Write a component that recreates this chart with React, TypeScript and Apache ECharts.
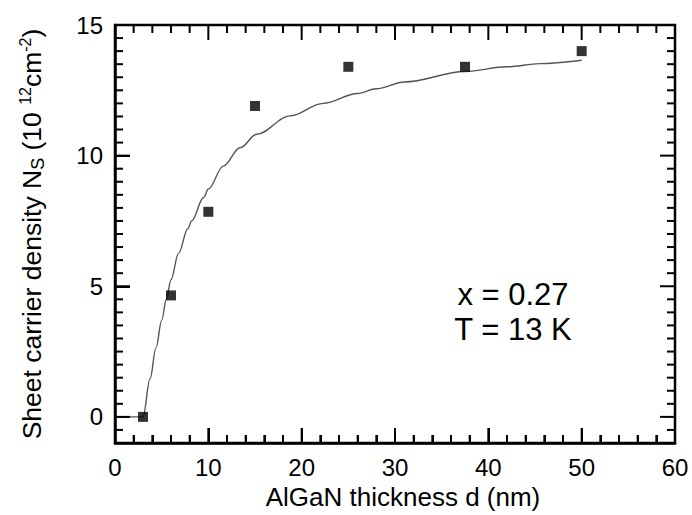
import React, { useEffect, useRef } from "react";
import * as echarts from "echarts";

const thicknessNm = [3, 6, 10, 15, 25, 37.5, 50];
const sheetDensity = [0, 4.65, 7.85, 11.9, 13.4, 13.4, 14.0];

const fitD = [0, 3, 3.75, 4.4, 5, 5.5, 6, 6.8, 7.8, 8.2, 9.5, 10, 11.6, 13.4, 15.2, 18.75, 22.3, 26, 28, 31, 37.5, 42, 45.5, 50];
const fitN = [0, 0, 1.45, 2.65, 3.7, 4.5, 5.25, 6.25, 7.2, 7.5, 8.4, 8.72, 9.6, 10.3, 10.82, 11.52, 12.0, 12.38, 12.56, 12.82, 13.22, 13.4, 13.52, 13.65];

const yMajorTicks = [0, 5, 10, 15];
const annotationLines = ["x = 0.27", "T = 13 K"];
const yTitle = "{a|Sheet carrier density N}{sub|S}{a| (10 }{sup|12}{a|cm}{sup|-2}{a|)}";

const FONT = "'Liberation Sans', Arial, Helvetica, sans-serif";

const X_MIN = 0, X_MAX = 60, X_STEP = 10, X_MINOR = 2;
const Y_MIN = -1, Y_MAX = 15, Y_MINOR = 0.5;

function axisLine() {
  return { show: true, onZero: false, lineStyle: { color: "#000", width: 2.5 } };
}

export default function App() {
  const ref = useRef<HTMLDivElement>(null);
  useEffect(() => {
    if (!ref.current) return;
    const chart = echarts.init(ref.current, undefined, { renderer: "svg" });
    chart.setOption({
      animation: false,
      backgroundColor: "#fff",
      grid: { left: 115, right: 17, top: 25, bottom: 72 },
      xAxis: [
        {
          type: "value",
          min: X_MIN,
          max: X_MAX,
          interval: X_STEP,
          axisLine: axisLine(),
          axisTick: { show: true, inside: true, length: 15, lineStyle: { color: "#000", width: 2 } },
          splitLine: { show: false },
          minorTick: { show: true, splitNumber: 5, length: 8, lineStyle: { color: "#000", width: 2 } },
          axisLabel: { fontFamily: FONT, fontSize: 24, color: "#000", margin: 12 },
          name: "AlGaN thickness d (nm)",
          nameLocation: "middle",
          nameGap: 40,
          nameTextStyle: { fontFamily: FONT, fontSize: 26, color: "#000", padding: [0, 0, 0, 16] },
        },
      ],
      yAxis: [
        {
          type: "value",
          min: Y_MIN,
          max: Y_MAX,
          axisLine: axisLine(),
          splitLine: { show: false },
          axisTick: { show: true, inside: true, length: 15, customValues: yMajorTicks, lineStyle: { color: "#000", width: 2 } },
          axisLabel: { customValues: yMajorTicks, fontFamily: FONT, fontSize: 24, color: "#000", margin: 12 },
        },
      ],
      series: [
        {
          type: "line",
          name: "fit",
          data: fitD.map((d, i) => [d, fitN[i]]),
          smooth: 0.35,
          smoothMonotone: "x",
          showSymbol: false,
          symbol: "none",
          lineStyle: { color: "#555", width: 1.4 },
          z: 2,
        },
        {
          type: "scatter",
          name: "data",
          data: thicknessNm.map((d, i) => [d, sheetDensity[i]]),
          symbol: "rect",
          symbolSize: 10,
          itemStyle: { color: "#000" },
          z: 3,
        },
      ],
    } as any);

    const px = (v: number) => chart.convertToPixel({ xAxisIndex: 0 }, v) as number;
    const py = (v: number) => chart.convertToPixel({ yAxisIndex: 0 }, v) as number;
    const left = px(X_MIN), right = px(X_MAX), top = py(Y_MAX), bottom = py(Y_MIN);
    const tickStyle = { stroke: "#000", lineWidth: 2 };
    const ticks: any[] = [];
    for (let v = X_MIN; v <= X_MAX + 1e-9; v += X_MINOR) {
      const major = Math.abs(v / X_STEP - Math.round(v / X_STEP)) < 1e-6;
      const len = major ? 15 : 8;
      const x = px(v);
      ticks.push({ type: "line", silent: true, z: 50, shape: { x1: x, y1: bottom, x2: x, y2: bottom - len }, style: tickStyle });
      ticks.push({ type: "line", silent: true, z: 50, shape: { x1: x, y1: top, x2: x, y2: top + len }, style: tickStyle });
    }
    for (let v = Y_MIN; v <= Y_MAX + 1e-9; v += Y_MINOR) {
      const major = yMajorTicks.some((m) => Math.abs(m - v) < 1e-6);
      const len = major ? 15 : 8;
      const y = py(v);
      ticks.push({ type: "line", silent: true, z: 50, shape: { x1: left, y1: y, x2: left + len, y2: y }, style: tickStyle });
      ticks.push({ type: "line", silent: true, z: 50, shape: { x1: right, y1: y, x2: right - len, y2: y }, style: tickStyle });
    }

    chart.setOption({
      graphic: [
        {
          type: "rect",
          silent: true,
          z: 50,
          shape: { x: left, y: top, width: right - left, height: bottom - top },
          style: { fill: "none", stroke: "#000", lineWidth: 2.5 },
        },
        ...ticks,
        {
          type: "text",
          x: 32,
          y: (top + bottom) / 2,
          rotation: Math.PI / 2,
          style: {
            text: yTitle,
            fontFamily: FONT,
            fill: "#000",
            textAlign: "center",
            textVerticalAlign: "middle",
            rich: {
              a: { fontFamily: FONT, fontSize: 26.5, lineHeight: 30, fill: "#000" },
              sub: { fontFamily: FONT, fontSize: 18, lineHeight: 18, verticalAlign: "bottom", fill: "#000" },
              sup: { fontFamily: FONT, fontSize: 16, lineHeight: 16, verticalAlign: "top", fill: "#000" },
            },
          },
        },
        ...annotationLines.map((t, i) => ({
          type: "text",
          x: 513,
          y: 294 + i * 35,
          style: {
            text: t,
            fontFamily: FONT,
            fontSize: 31,
            fill: "#000",
            textAlign: "center",
            textVerticalAlign: "middle",
          },
        })),
      ],
    } as any);
    return () => chart.dispose();
  }, []);
  return (
    <div
      ref={ref}
      style={{ position: "absolute", left: 0, top: 0, width: 692, height: 515, background: "#fff" }}
    />
  );
}
